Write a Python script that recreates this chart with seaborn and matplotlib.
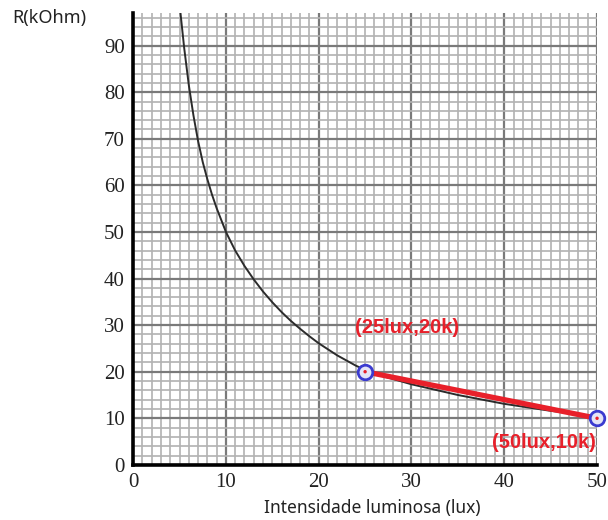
import numpy as np
import pandas as pd
import matplotlib
matplotlib.use("Agg")
import matplotlib.pyplot as plt
import seaborn as sns
from matplotlib.ticker import MultipleLocator

# curve (lux, kOhm)
lux = [5.1, 5.5, 6.0, 6.5, 7.0, 7.5, 8.0, 8.5, 9.0, 10.0, 11.0, 12.0, 13.0,
       14.0, 15.0, 16.0, 17.0, 18.0, 19.0, 20.0, 22.0, 24.0, 25.0, 27.0,
       30.0, 35.0, 40.0, 45.0, 50.0]
r_kohm = [97, 89.5, 81.5, 75, 69.5, 65, 61.3, 58, 55.1, 50, 46, 42.7, 39.8,
          37.2, 34.9, 32.8, 30.9, 29.2, 27.6, 26.1, 23.5, 21.3, 20.4, 19.0,
          17.3, 15.0, 13.1, 11.6, 10.4]

# highlighted points
pt_lux = [25, 50]
pt_r = [20, 10]
pt_labels = ["(25lux,20k)", "(50lux,10k)"]

x_ticks = [0, 10, 20, 30, 40, 50]
y_ticks = [0, 10, 20, 30, 40, 50, 60, 70, 80, 90]

curve = pd.DataFrame({"lux": lux, "R": r_kohm})
pts = pd.DataFrame({"lux": pt_lux, "R": pt_r})

sns.set_style("white")

fig = plt.figure(figsize=(6.08, 5.2), dpi=100)
ax = fig.add_axes([0.219, 0.106, 0.763, 0.869])

sns.lineplot(data=curve, x="lux", y="R", ax=ax, color="#2b2b2b", lw=1.4,
             sort=False, zorder=3)
sns.lineplot(data=pts, x="lux", y="R", ax=ax, color="#e8202a", lw=3.8,
             zorder=4)
sns.scatterplot(data=pts, x="lux", y="R", ax=ax, s=110, color="#e4e4f6",
                edgecolor="#3b3bd0", linewidth=2.0, zorder=5, clip_on=False)
sns.scatterplot(data=pts, x="lux", y="R", ax=ax, s=6, color="#e8202a",
                edgecolor="none", zorder=6, clip_on=False)

# labels of the points
ax.text(29.5, 29.4, pt_labels[0], color="#e8202a", fontsize=14.5,
        fontweight="bold", family="Liberation Sans", ha="center", va="center")
ax.text(44.3, 4.7, pt_labels[1], color="#e8202a", fontsize=14.5,
        fontweight="bold", family="Liberation Sans", ha="center", va="center",
        zorder=7)

ax.set_xlim(0, 50)
ax.set_ylim(0, 97)
ax.set_xticks(x_ticks)
ax.set_yticks(y_ticks)
ax.xaxis.set_minor_locator(MultipleLocator(1))
ax.yaxis.set_minor_locator(MultipleLocator(2))
ax.grid(which="minor", color="#b2b2b2", lw=1.2)
ax.grid(which="major", color="#7a7a7a", lw=1.6)
ax.set_axisbelow(True)

for side in ["top", "right"]:
    ax.spines[side].set_visible(False)
for side in ["left", "bottom"]:
    ax.spines[side].set_color("black")
    ax.spines[side].set_linewidth(2.6)
    ax.spines[side].set_zorder(8)

ax.tick_params(which="major", direction="out", length=4, width=1,
               color="#333333", labelsize=15, labelcolor="#222222", pad=2)
ax.tick_params(which="minor", length=0)
for lab in ax.get_xticklabels() + ax.get_yticklabels():
    lab.set_family("Liberation Serif")

ax.set_xlabel("")
ax.set_ylabel("")
fig.text(12 / 608, 1 - 18 / 520, "R(kOhm)", fontsize=13,
         family="Noto Sans", ha="left", va="center", color="#222222")
fig.text(372 / 608, 1 - 508 / 520, "Intensidade luminosa (lux)",
         fontsize=12.5, family="Noto Sans", ha="center", va="center",
         color="#222222")

fig.savefig("out.png", dpi=100)
